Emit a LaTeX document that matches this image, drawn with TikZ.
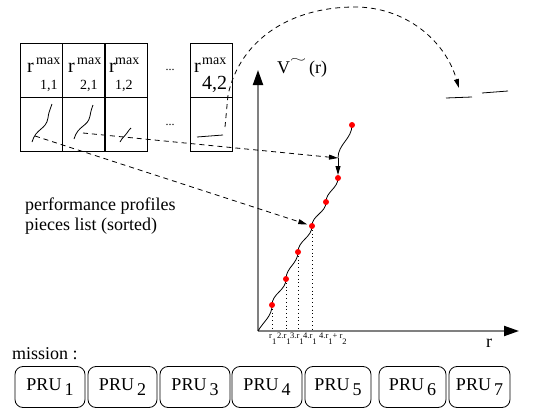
\documentclass[tikz,border=0pt]{standalone}
\usepackage{fontspec}
\usepackage{graphicx}
\setmainfont{Liberation Serif}
\usetikzlibrary{arrows.meta}
\begin{document}
\begin{tikzpicture}[x=1pt,y=1pt,
  cell/.style={draw,line width=0.9pt,minimum width=42pt,minimum height=54pt,inner sep=0pt,outer sep=0pt},
  pru/.style={draw,line width=0.8pt,rounded corners=8pt,minimum height=41pt,inner sep=0pt,
    font=\fontsize{18}{20}\selectfont},
  conn/.style={line width=0.8pt,dash pattern=on 5pt off 4pt},
  tip/.style={-{Triangle[length=9pt,width=5pt]}},
  axis/.style={line width=2pt,black!50,-{Triangle[length=15pt,width=10pt,color=black]}},
  txt/.style={anchor=base west,inner sep=0pt},
  rmain/.style={txt,font=\fontsize{20}{20}\selectfont},
  rsmall/.style={txt,font=\fontsize{14}{14}\selectfont},
  tick/.style={txt,font=\fontsize{8.5}{8.5}\selectfont},
  dot/.style={circle,fill=red,inner sep=0pt,minimum size=6pt},
  wave/.style={line width=0.8pt},
  drop/.style={line width=0.8pt,dash pattern=on 0.8pt off 3pt}]
\useasboundingbox (0,0) rectangle (555,-415);

% table of performance profile pieces
\node[cell] (c1a) at (41,-70) {};
\node[cell] (c2a) at (83.5,-70) {};
\node[cell] (c3a) at (126,-70) {};
\node[cell] (c4a) at (211,-70) {};
\node[cell] (c1b) at (41,-124) {};
\node[cell] (c2b) at (83.5,-124) {};
\node[cell] (c3b) at (126,-124) {};
\node[cell] (c4b) at (211,-124) {};

\node[rmain] (r1) at (27,-72) {r};
\node[rsmall] (m1) at (36,-64) {max};
\node[rsmall] (s1) at (40,-89) {1,1};
\node[rmain] (r2) at (68,-72) {r};
\node[rsmall] (m2) at (77,-64) {max};
\node[rsmall] (s2) at (80,-89) {2,1};
\node[rmain] (r3) at (109,-72) {r};
\node[rsmall] (m3) at (115,-64) {max};
\node[rsmall] (s3) at (115,-89) {1,2};
\node[rmain] (r4) at (194,-72) {r};
\node[rsmall] (m4) at (202,-64) {max};
\node[rmain] (s4) at (202,-89) {4,2};

\node[font=\fontsize{12}{12}\selectfont,inner sep=0pt] (e1) at (170,-70) {...};
\node[font=\fontsize{12}{12}\selectfont,inner sep=0pt] (e2) at (170,-125) {...};

% profile sketches inside the cells
\draw[wave] (32,-142) .. controls (36,-128) and (46,-130) .. (48,-118)
  .. controls (49,-110) and (51,-108) .. (52,-104);
\draw[wave] (74,-139) .. controls (78,-125) and (88,-127) .. (90,-116)
  .. controls (91,-110) and (92,-108) .. (93,-105);
\draw[wave] (120,-142) .. controls (123,-136) and (126,-136) .. (127,-133)
  .. controls (128,-130) and (130,-130) .. (131,-128);
\draw[wave] (197,-137) -- (223,-135);

% axes
\coordinate (O) at (258,-331);
\coordinate (ytop) at (258,-70);
\coordinate (xend) at (519,-331);
\draw[axis] (O) -- (ytop);
\draw[axis] (O) -- (xend);

% sorted pieces on the value curve
\coordinate (d1) at (272,-305);
\coordinate (d2) at (286,-279);
\coordinate (d3) at (298,-252);
\coordinate (d4) at (312,-226);
\coordinate (d5) at (326,-202);
\coordinate (d6) at (338,-178);
\coordinate (d7) at (352,-125);
\coordinate (j) at (338,-158);

\foreach \p in {d1,d2,d3,d4}
  \draw[drop] (\p) -- (\p |- O);

\draw[wave] (O) to[out=60,in=-90] (d1) to[out=90,in=-90] (d2) to[out=90,in=-90] (d3)
  to[out=90,in=-90] (d4) to[out=90,in=-90] (d5) to[out=90,in=-90] (d6);
\draw[wave] (j) to[out=90,in=-90] (d7);

\foreach \p in {d1,d2,d3,d4,d5,d6,d7}
  \node[dot] at (\p) {};

% tick labels
\node[tick] (t1) at (269,-338) {r\raisebox{-6pt}{1}};
\node[tick] (t2) at (277,-338) {2.r\raisebox{-6pt}{1}};
\node[tick] (t3) at (290,-338) {3.r\raisebox{-6pt}{1}};
\node[tick] (t4) at (303,-338) {4.r\raisebox{-6pt}{1}};
\node[tick] (t5) at (319,-338) {4.r\raisebox{-6pt}{1}+ r\raisebox{-6pt}{2}};

\node[txt,font=\fontsize{18}{18}\selectfont] (rlab) at (486,-347) {r};
\node[txt,font=\fontsize{18}{18}\selectfont] (vlab) at (277,-73)
  {V\raisebox{11pt}{\resizebox{16pt}{4pt}{$\sim$}}\,(r)};

% connectors from the table to the curve
\coordinate (a1) at (35,-136);
\coordinate (a2) at (83,-133);
\draw[conn,tip,shorten >=5pt] (a1) -- (d4);
\draw[conn,tip] (a2) -- (j);
\draw[tip,line width=0.8pt,shorten >=3pt] (j) -- (d6);

% last piece moved out of the picture
\coordinate (a3) at (225,-127);
\coordinate (a3b) at (228,-95);
\coordinate (top) at (355,-7);
\coordinate (a4) at (459,-88);
\draw[conn,tip] (a3) -- (a3b) .. controls (240,-40) and (290,-7) .. (top)
  .. controls (405,-7) and (445,-40) .. (a4);
\coordinate (p1) at (446,-98);
\coordinate (p2) at (472,-97);
\coordinate (p3) at (482,-93);
\coordinate (p4) at (508,-91);
\draw[wave] (p1) -- (p2);
\draw[wave] (p3) -- (p4);

% caption
\node[txt,font=\fontsize{18}{20}\selectfont] (cap1) at (25,-210) {performance profiles};
\node[txt,font=\fontsize{18}{20}\selectfont] (cap2) at (25,-230) {pieces list (sorted)};

% mission
\node[txt,font=\fontsize{18}{18}\selectfont] (mis) at (12,-359) {mission :};
\node[pru,minimum width=70pt] (u1) at (50,-387) {PRU\,\raisebox{-5pt}{1}};
\node[pru,minimum width=69pt] (u2) at (122.5,-387) {PRU\,\raisebox{-5pt}{2}};
\node[pru,minimum width=70pt] (u3) at (195,-387) {PRU\,\raisebox{-5pt}{3}};
\node[pru,minimum width=70pt] (u4) at (267,-387) {PRU\,\raisebox{-5pt}{4}};
\node[pru,minimum width=66pt] (u5) at (338,-387) {PRU\,\raisebox{-5pt}{5}};
\node[pru,minimum width=67pt] (u6) at (412.5,-387) {PRU\,\raisebox{-5pt}{6}};
\node[pru,minimum width=61pt] (u7) at (479.5,-387) {PRU\,\raisebox{-5pt}{7}};
\end{tikzpicture}
\end{document}
